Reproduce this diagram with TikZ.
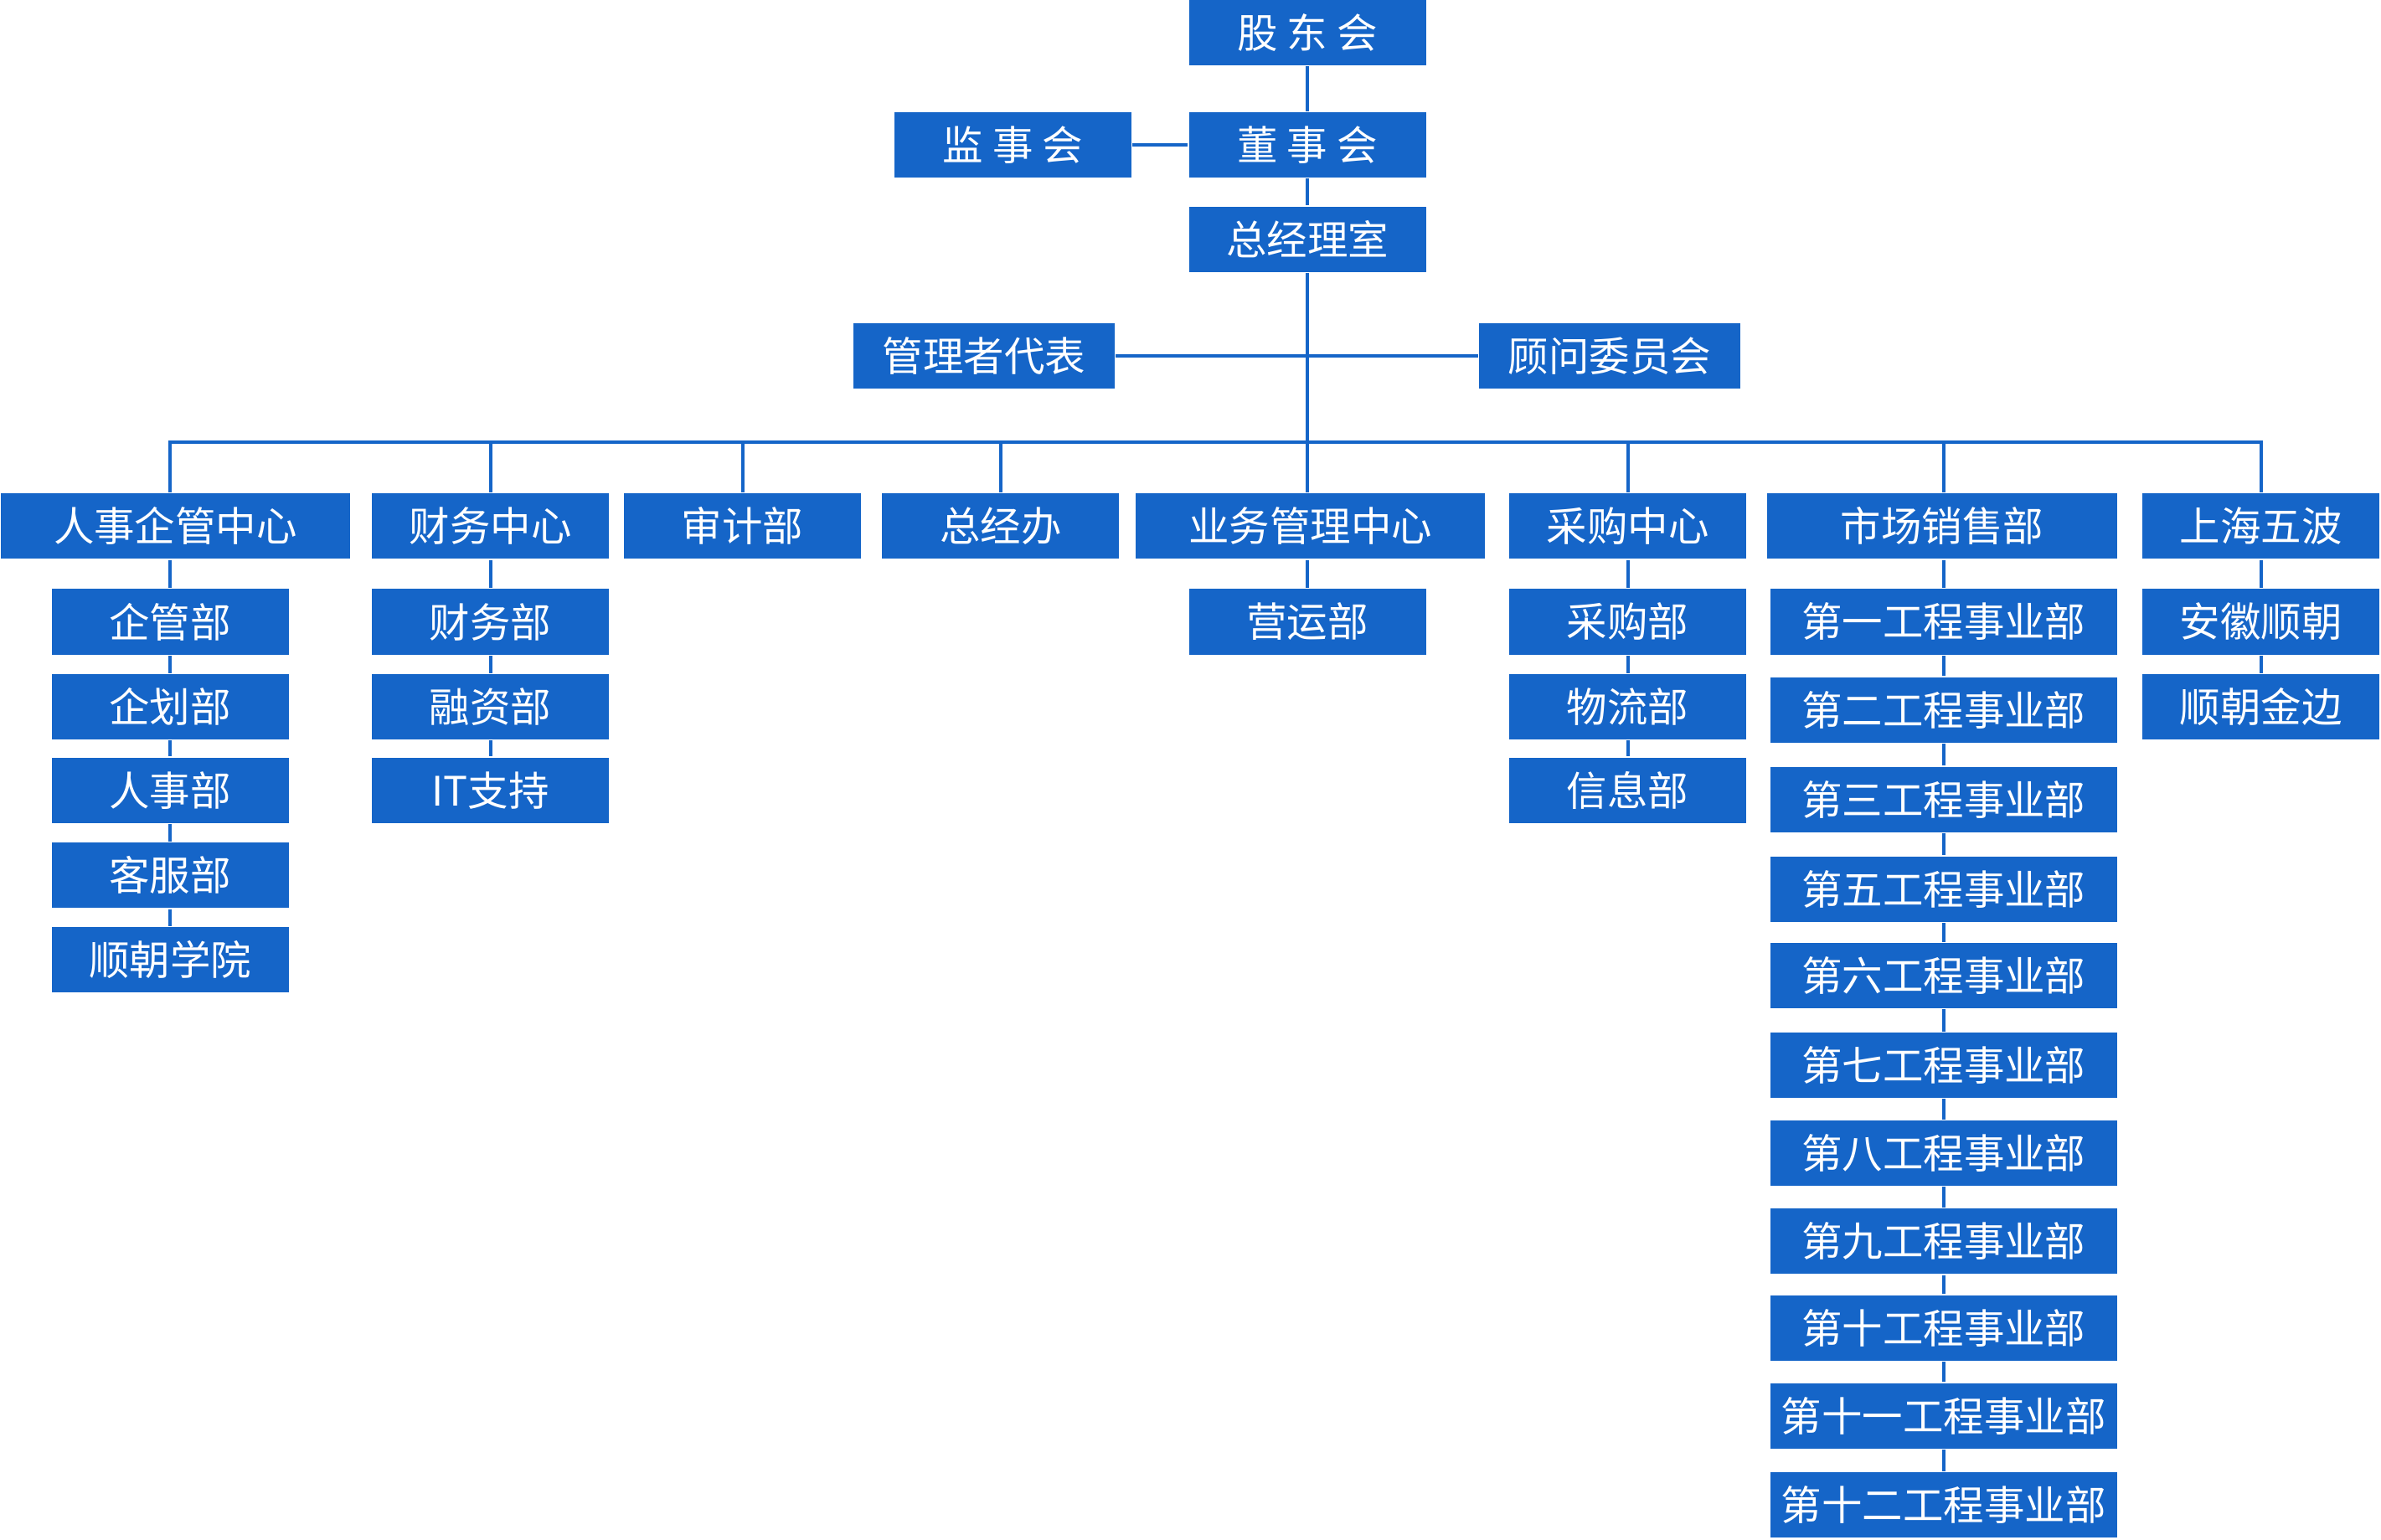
\documentclass[tikz,border=0pt]{standalone}
\usepackage{fontspec}
\newfontfamily\cjk{Noto Sans CJK SC}
\definecolor{bb}{HTML}{1565C8}
\begin{document}
\begin{tikzpicture}[x=0.01cm,y=-0.01cm,
 bx/.style={fill=bb,text=white,inner sep=0pt,minimum height=0.43cm,font=\cjk\fontsize{7.6}{9}\selectfont},
 wa/.style={bx,minimum width=1.56cm},
 wb/.style={bx,minimum width=1.72cm},
 wc/.style={bx,minimum width=2.30cm},
 wd/.style={bx,minimum width=2.28cm},
 ln/.style={draw=bb,line width=0.6pt}]
\useasboundingbox (0,0) rectangle (1568,1014);
\node[wa] (gd) at (861,21.5) {股\ 东\ 会};
\node[wa] (js) at (667,95.5) {监\ 事\ 会};
\node[wa] (ds) at (861,95.5) {董\ 事\ 会};
\node[wa] (zj) at (861,157.5) {总经理室};
\node[wb] (gl) at (648,234.5) {管理者代表};
\node[wb] (gw) at (1060,234.5) {顾问委员会};
\coordinate (bus) at (863,291);
\node[wc] (hr) at (115.5,346.5) {人事企管中心};
\node[wa] (cw) at (323,346.5) {财务中心};
\node[wa] (sj) at (489,346.5) {审计部};
\node[wa] (zb) at (659,346.5) {总经办};
\node[wc] (yw) at (863,346.5) {业务管理中心};
\node[wa] (cg) at (1072,346.5) {采购中心};
\node[wc] (sc) at (1279,346.5) {市场销售部};
\node[wa] (sh) at (1489,346.5) {上海五波};
% sub
\node[wa] (h1) at (112,409.5) {企管部};
\node[wa] (h2) at (112,465.5) {企划部};
\node[wa] (h3) at (112,520.5) {人事部};
\node[wa] (h4) at (112,576.5) {客服部};
\node[wa] (h5) at (112,632) {顺朝学院};
\node[wa] (c1) at (323,409.5) {财务部};
\node[wa] (c2) at (323,465.5) {融资部};
\node[wa] (c3) at (323,520.5) {IT支持};
\node[wa] (y1) at (861,409.5) {营运部};
\node[wa] (g1) at (1072,409.5) {采购部};
\node[wa] (g2) at (1072,465.5) {物流部};
\node[wa] (g3) at (1072,520.5) {信息部};
\node[wd] (s1) at (1280,409.5) {第一工程事业部};
\node[wd] (s2) at (1280,467.5) {第二工程事业部};
\node[wd] (s3) at (1280,526.5) {第三工程事业部};
\node[wd] (s4) at (1280,585.5) {第五工程事业部};
\node[wd] (s5) at (1280,642.5) {第六工程事业部};
\node[wd] (s6) at (1280,701.5) {第七工程事业部};
\node[wd] (s7) at (1280,759.5) {第八工程事业部};
\node[wd] (s8) at (1280,817.5) {第九工程事业部};
\node[wd] (s9) at (1280,874.5) {第十工程事业部};
\node[wd] (s10) at (1280,932.5) {第十一工程事业部};
\node[wd] (s11) at (1280,991) {第十二工程事业部};
\node[wa] (a1) at (1489,409.5) {安徽顺朝};
\node[wa] (a2) at (1489,465.5) {顺朝金边};
% connectors
\draw[ln] (gd) -- (ds);
\draw[ln] (ds) -- (zj);
\draw[ln] (js) -- (ds);
\draw[ln] (zj.south) -- (zj.south |- bus);
\draw[ln] (gl) -- (gw);
\draw[ln] (hr.north -| h1) |- (bus) -| (a1 |- sh.north);
\foreach \n/\m in {cw/c1,sj/sj,zb/zb,yw/y1,cg/g1,sc/s1}{
 \draw[ln] (\m |- \n.north) -- (\m |- bus);}
\draw[ln] (zj.south |- bus) -- (zj.south |- yw.north);
\draw[ln] (h1 |- hr.south) -- (h1);
\foreach \a/\b in {h1/h2,h2/h3,h3/h4,h4/h5,c1/c2,c2/c3,g1/g2,g2/g3,a1/a2,
 s1/s2,s2/s3,s3/s4,s4/s5,s5/s6,s6/s7,s7/s8,s8/s9,s9/s10,s10/s11}{\draw[ln] (\a) -- (\b);}
\draw[ln] (c1 |- cw.south) -- (c1);
\draw[ln] (y1 |- yw.south) -- (y1);
\draw[ln] (g1 |- cg.south) -- (g1);
\draw[ln] (s1 |- sc.south) -- (s1);
\draw[ln] (a1 |- sh.south) -- (a1);
\end{tikzpicture}
\end{document}
